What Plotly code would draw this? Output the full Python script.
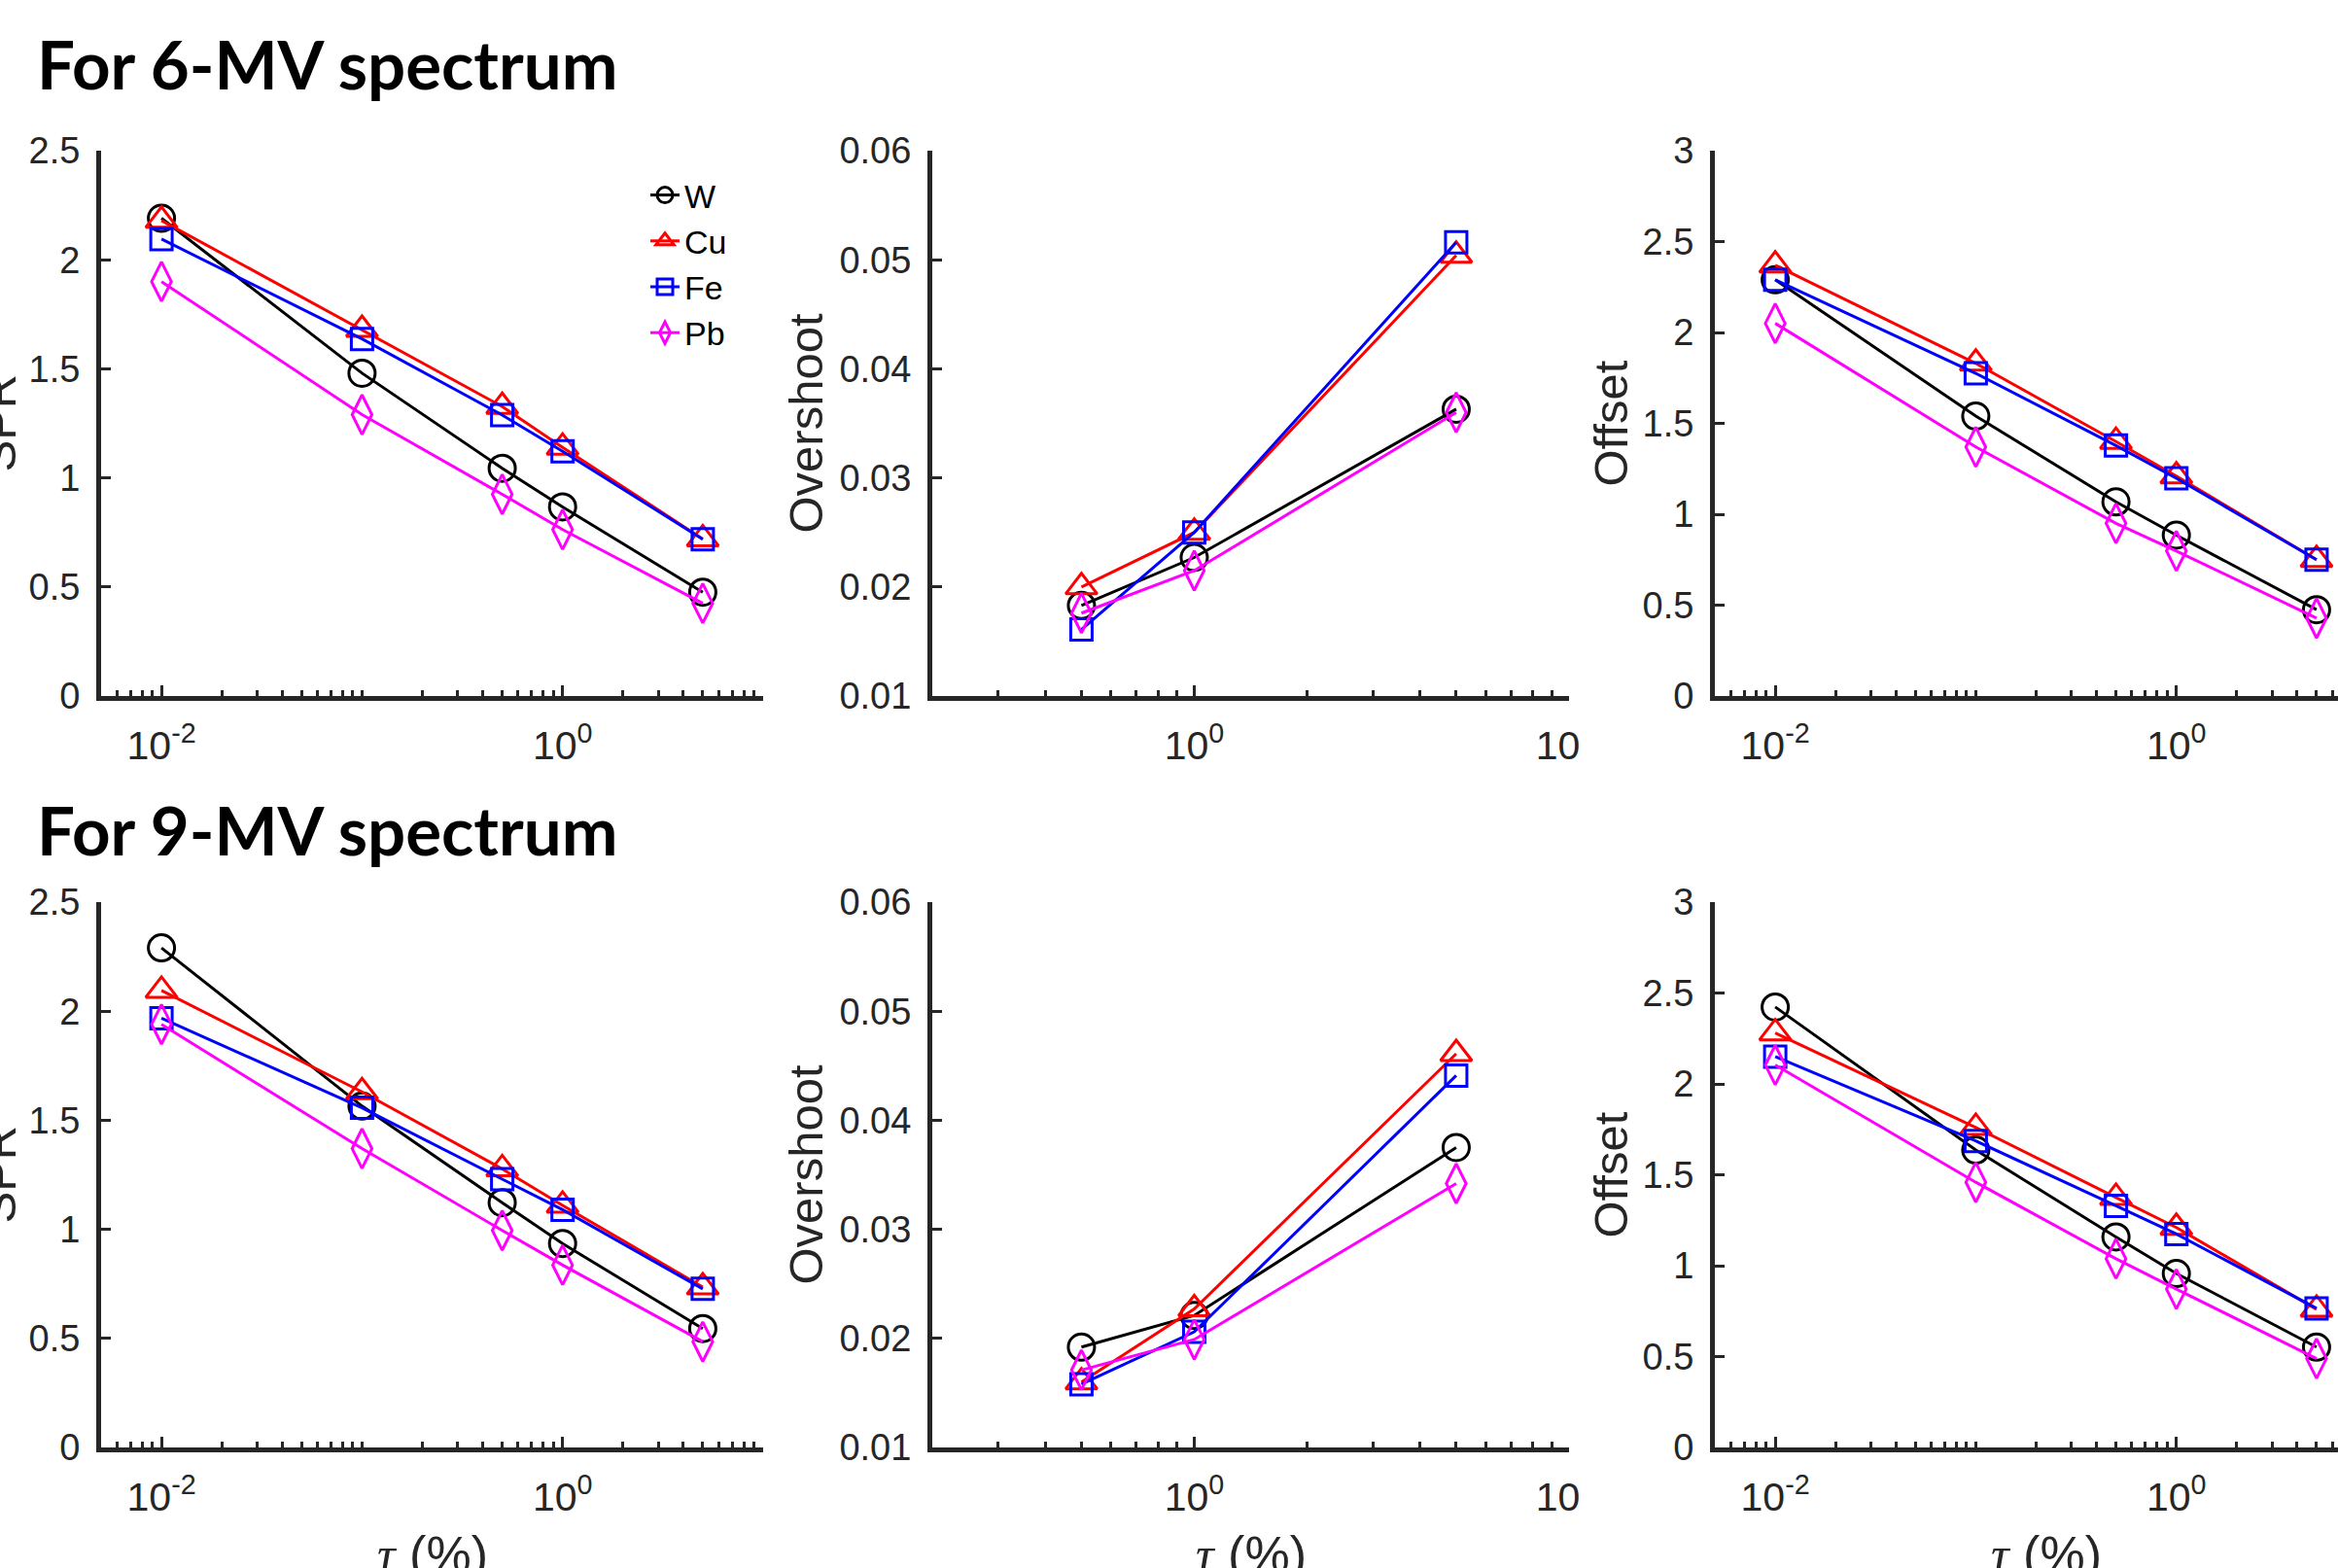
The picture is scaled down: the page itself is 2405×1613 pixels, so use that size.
import math
import plotly.graph_objects as go

FIG_W, FIG_H = 2405, 1613

# ---------------- data ----------------
tau_pct = [0.01, 0.1, 0.5, 1, 5]          # x values for SPR and Offset
tau_pct_overshoot = [0.5, 1, 5]            # x values for Overshoot
materials = ["W", "Cu", "Fe", "Pb"]

spr_6mv_W = [2.19, 1.48, 1.044, 0.867, 0.476]
spr_6mv_Cu = [2.18, 1.68, 1.327, 1.14, 0.72]
spr_6mv_Fe = [2.095, 1.637, 1.288, 1.122, 0.719]
spr_6mv_Pb = [1.90, 1.29, 0.925, 0.763, 0.425]

overshoot_6mv_W = [0.0183, 0.0227, 0.0363]
overshoot_6mv_Cu = [0.0200, 0.0250, 0.0504]
overshoot_6mv_Fe = [0.0161, 0.0250, 0.0516]
overshoot_6mv_Pb = [0.0176, 0.0215, 0.0360]

offset_6mv_W = [2.29, 1.54, 1.068, 0.885, 0.475]
offset_6mv_Cu = [2.37, 1.83, 1.40, 1.21, 0.75]
offset_6mv_Fe = [2.29, 1.775, 1.378, 1.198, 0.75]
offset_6mv_Pb = [2.05, 1.37, 0.95, 0.798, 0.428]

spr_9mv_W = [2.29, 1.565, 1.122, 0.935, 0.545]
spr_9mv_Cu = [2.095, 1.63, 1.277, 1.11, 0.735]
spr_9mv_Fe = [1.968, 1.557, 1.23, 1.09, 0.727]
spr_9mv_Pb = [1.94, 1.37, 0.995, 0.836, 0.485]

overshoot_9mv_W = [0.0192, 0.0221, 0.0375]
overshoot_9mv_Cu = [0.0160, 0.0227, 0.0461]
overshoot_9mv_Fe = [0.0158, 0.0206, 0.0441]
overshoot_9mv_Pb = [0.0171, 0.0199, 0.0342]

offset_9mv_W = [2.423, 1.636, 1.158, 0.957, 0.552]
offset_9mv_Cu = [2.28, 1.76, 1.375, 1.21, 0.76]
offset_9mv_Fe = [2.15, 1.686, 1.329, 1.174, 0.765]
offset_9mv_Pb = [2.104, 1.459, 1.038, 0.871, 0.489]

row_titles = ["For 6-MV spectrum", "For 9-MV spectrum"]
y_titles = ["SPR", "Overshoot", "Offset"]

# ---------------- styling ----------------
colors = {"W": "#000000", "Cu": "#FF0000", "Fe": "#0000FF", "Pb": "#FF00FF"}
symbols = {"W": "circle-open", "Cu": "triangle-up-open",
           "Fe": "square-open", "Pb": "diamond-tall-open"}
msizes = {"W": 27, "Cu": 28, "Fe": 22, "Pb": 29}
AX = "#262626"
XTICK_FONT = dict(family="Liberation Sans, Arial, sans-serif", size=41, color=AX)
YTICK_FONT = dict(family="Liberation Sans, Arial, sans-serif", size=38, color=AX)
LABEL_FONT = dict(family="Liberation Sans, Arial, sans-serif", size=49, color=AX)

# panel layout in pixels (left, right, top, bottom)
col_px = [(104, 785), (959, 1614), (1764, 2405)]
row_px = [(155, 716), (928, 1489)]

panels = [
    # (row, col, x values, series dict, y range, y dtick, y tickformat)
    (0, 0, tau_pct, {"W": spr_6mv_W, "Cu": spr_6mv_Cu, "Fe": spr_6mv_Fe, "Pb": spr_6mv_Pb}, [0, 2.5], 0.5, None),
    (0, 1, tau_pct_overshoot, {"W": overshoot_6mv_W, "Cu": overshoot_6mv_Cu, "Fe": overshoot_6mv_Fe, "Pb": overshoot_6mv_Pb}, [0.01, 0.06], 0.01, ".2f"),
    (0, 2, tau_pct, {"W": offset_6mv_W, "Cu": offset_6mv_Cu, "Fe": offset_6mv_Fe, "Pb": offset_6mv_Pb}, [0, 3], 0.5, None),
    (1, 0, tau_pct, {"W": spr_9mv_W, "Cu": spr_9mv_Cu, "Fe": spr_9mv_Fe, "Pb": spr_9mv_Pb}, [0, 2.5], 0.5, None),
    (1, 1, tau_pct_overshoot, {"W": overshoot_9mv_W, "Cu": overshoot_9mv_Cu, "Fe": overshoot_9mv_Fe, "Pb": overshoot_9mv_Pb}, [0.01, 0.06], 0.01, ".2f"),
    (1, 2, tau_pct, {"W": offset_9mv_W, "Cu": offset_9mv_Cu, "Fe": offset_9mv_Fe, "Pb": offset_9mv_Pb}, [0, 3], 0.5, None),
]

# x-axis ranges (log10) per column
x_ranges = [[math.log10(0.005), 1.0], [math.log10(0.2), 1.0], [math.log10(0.005), 0.806]]
x_major = [[0.01, 1], [1, 10], [0.01, 1]]
x_major_text = [["10<sup>-2</sup>", "10<sup>0</sup>"], ["10<sup>0</sup>", "10\u00a0\u00a0"],
                ["10<sup>-2</sup>", "10<sup>0</sup>"]]


def minor_vals(rng, majors):
    vals = []
    for k in range(-4, 3):
        for m in range(1, 10):
            v = m * 10 ** k
            lv = math.log10(v)
            if rng[0] - 1e-9 <= lv <= rng[1] + 1e-9 and not any(abs(v - mj) < 1e-12 for mj in majors):
                vals.append(v)
    return vals


fig = go.Figure()
layout_axes = {}

for idx, (r, c, xs, series, yr, ydt, yfmt) in enumerate(panels):
    n = idx + 1
    xname = "x" if n == 1 else f"x{n}"
    yname = "y" if n == 1 else f"y{n}"
    for mat in materials:
        fig.add_trace(go.Scatter(
            x=xs, y=series[mat], name=mat, mode="lines+markers",
            xaxis=xname, yaxis=yname,
            line=dict(color=colors[mat], width=3),
            marker=dict(symbol=symbols[mat], size=msizes[mat], color=colors[mat],
                        line=dict(color=colors[mat], width=3)),
            legendgroup=mat, showlegend=(n == 1),
        ))
    l, rr = col_px[c]
    t, b = row_px[r]
    xdom = [l / FIG_W, rr / FIG_W]
    ydom = [1 - b / FIG_H, 1 - t / FIG_H]
    xkey = "xaxis" if n == 1 else f"xaxis{n}"
    ykey = "yaxis" if n == 1 else f"yaxis{n}"
    layout_axes[xkey] = dict(
        domain=xdom, anchor=yname, type="log", range=x_ranges[c],
        tickmode="array", tickvals=x_major[c], ticktext=x_major_text[c],
        ticks="inside", ticklen=11, tickwidth=3, tickcolor=AX,
        minor=dict(tickmode="array", tickvals=minor_vals(x_ranges[c], x_major[c]),
                   ticks="inside", ticklen=6, tickwidth=3, tickcolor=AX, showgrid=False),
        showline=True, linecolor=AX, linewidth=5, mirror=False,
        showgrid=False, zeroline=False, tickfont=XTICK_FONT,
        ticklabelstandoff=11, fixedrange=True,
    )
    layout_axes[ykey] = dict(
        domain=ydom, anchor=xname, range=yr, dtick=ydt, tick0=yr[0],
        tickformat=yfmt, ticks="inside", ticklen=10, tickwidth=3, tickcolor=AX,
        showline=True, linecolor=AX, linewidth=5, mirror=False,
        showgrid=False, zeroline=False, tickfont=YTICK_FONT,
        ticklabelstandoff=9, fixedrange=True,
    )

annotations = []
# row titles
for r, txt in enumerate(row_titles):
    yc = [66, 853][r]
    annotations.append(dict(
        text=f"<b>{txt}</b>", xref="paper", yref="paper", x=36 / FIG_W, y=1 - yc / FIG_H,
        xanchor="left", yanchor="middle", showarrow=False,
        font=dict(family="Lato, Noto Sans, sans-serif", size=69, color="#000000")))
# y titles
ytitle_x = [-2, 828, 1656]
for r in range(2):
    t, b = row_px[r]
    for c in range(3):
        annotations.append(dict(
            text=y_titles[c], xref="paper", yref="paper",
            x=ytitle_x[c] / FIG_W, y=1 - (t + b) / 2 / FIG_H,
            xanchor="center", yanchor="middle", textangle=-90, showarrow=False,
            font=LABEL_FONT))
# x titles (bottom row, partially cut by the figure edge)
for c in range(3):
    l, rr = col_px[c]
    width = 681 if c != 1 else rr - l
    xc = l + width / 2
    annotations.append(dict(
        text="<span style=\"font-family:'Liberation Serif';font-style:italic\">τ</span> (%)",
        xref="paper", yref="paper", x=xc / FIG_W, y=1 - 1568 / FIG_H,
        xanchor="center", yanchor="top", showarrow=False,
        font=dict(family="Liberation Sans, Arial, sans-serif", size=52, color=AX)))

fig.update_layout(
    width=FIG_W, height=FIG_H,
    margin=dict(l=0, r=0, t=0, b=0, autoexpand=False),
    paper_bgcolor="white", plot_bgcolor="white",
    showlegend=True,
    legend=dict(x=664 / FIG_W, y=1 - 172 / FIG_H, xanchor="left", yanchor="top",
                bgcolor="rgba(0,0,0,0)", borderwidth=0, tracegroupgap=0,
                font=dict(family="Liberation Sans, Arial, sans-serif", size=34, color="#000000")),
    annotations=annotations,
    **layout_axes,
)

fig.write_html(
    "out.html",
    config={"displayModeBar": False},
    post_script="document.body.style.margin='0';document.body.style.overflow='hidden';",
)
